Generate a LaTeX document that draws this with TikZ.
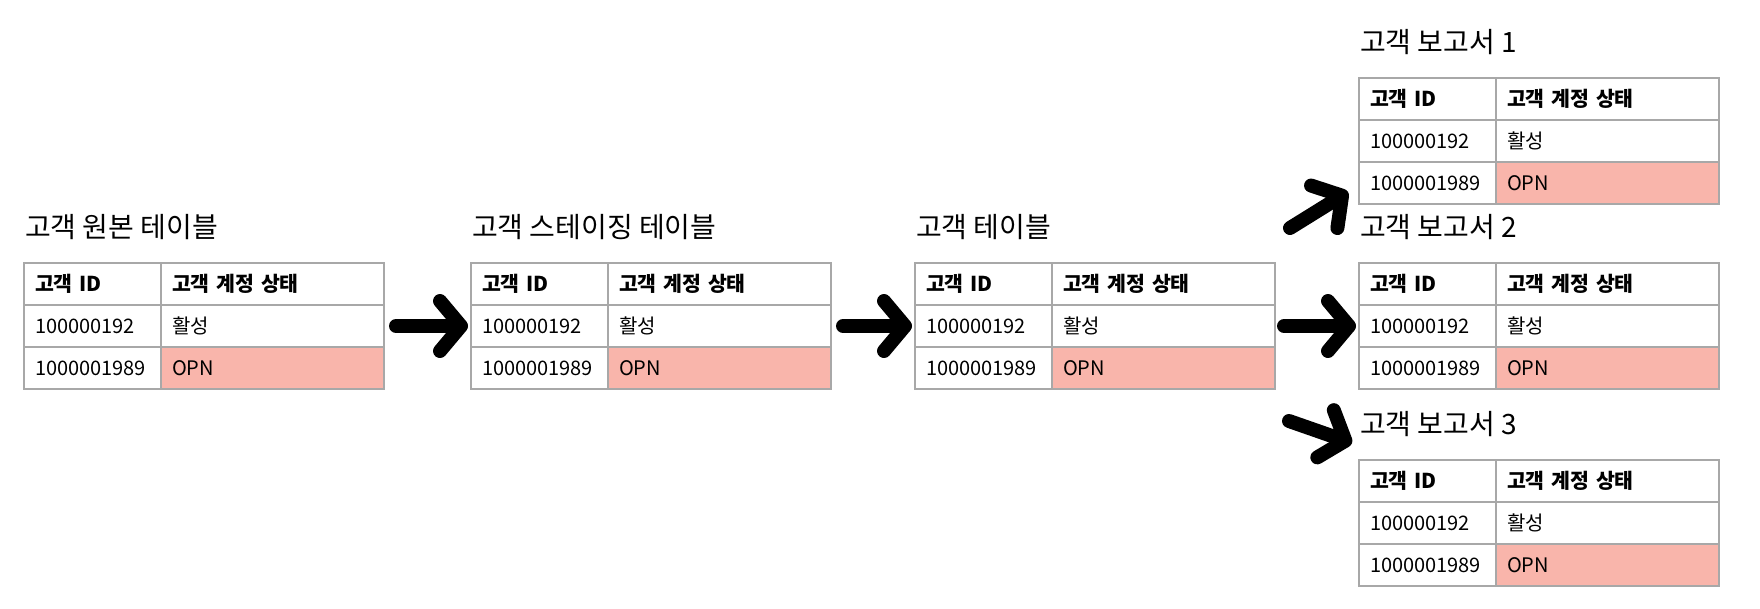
\documentclass[tikz,border=0pt]{standalone}
\usepackage{fontspec}
\setmainfont{Noto Sans CJK KR}
\usetikzlibrary{arrows.meta}
\definecolor{cellgrid}{RGB}{168,168,168}
\definecolor{opnred}{RGB}{249,181,171}

\begin{document}
\begin{tikzpicture}[x=1pt,y=-1pt]
        \tikzstyle{every node}+=[inner sep=0pt, outer sep=0pt]
        \tikzstyle{cell}=[draw=cellgrid, line width=1.5pt, minimum height=42pt, anchor=north west, inner xsep=11pt, text height=14.5pt, text depth=0pt, align=left, font=\fontsize{20}{24}\selectfont]
        \tikzstyle{head}=[font=\fontsize{20.5}{24}\selectfont\bfseries]
        \tikzstyle{idcell}=[cell, text width=115pt]
        \tikzstyle{stcell}=[cell, text width=201pt]
        \tikzstyle{tabtitle}=[anchor=base west, font=\fontsize{28}{34}\selectfont]
        \tikzstyle{flow}=[line width=14pt, line cap=round, -{Straight Barb[length=21pt, width=50pt, round]}]
        \useasboundingbox (0,0) rectangle (1760,608);
        \fill [white] (0,0) rectangle (1760,608);
        \foreach \t/\x/\y/\title in {raw/24/263/고객 원본 테이블, stage/471/263/고객 스테이징 테이블, cust/915/263/고객 테이블, rep1/1359/78/고객 보고서 1, rep2/1359/263/고객 보고서 2, rep3/1359/460/고객 보고서 3}{
          \node [tabtitle] (\t-title) at (\x+1,\y-26) {\title};
          \node [idcell, head] (\t-id0) at (\x,\y) {고객 ID};
          \node [stcell, head] (\t-st0) at (\t-id0.north east) {고객 계정 상태};
          \node [idcell] (\t-id1) at (\t-id0.south west) {100000192};
          \node [stcell] (\t-st1) at (\t-id1.north east) {활성};
          \node [idcell] (\t-id2) at (\t-id1.south west) {1000001989};
          \node [stcell, fill=opnred] (\t-st2) at (\t-id2.north east) {OPN};
        }
        \draw [flow, shorten <=12pt, shorten >=3pt] (raw-st1.east) -- (stage-id1.west);
        \draw [flow, shorten <=12pt, shorten >=3pt] (stage-st1.east) -- (cust-id1.west);
        \draw [flow, shorten <=9pt, shorten >=3pt] (cust-st1.east) -- (rep2-id1.west);
        \draw [flow] ([shift={(15,-35)}]cust-st0.north east) -- ([shift={(-11,-12)}]rep1-id2.south west);
        \draw [flow] ([shift={(14,32)}]cust-st2.south east) -- ([shift={(-7,-17)}]rep3-id0.north west);
\end{tikzpicture}
\end{document}
